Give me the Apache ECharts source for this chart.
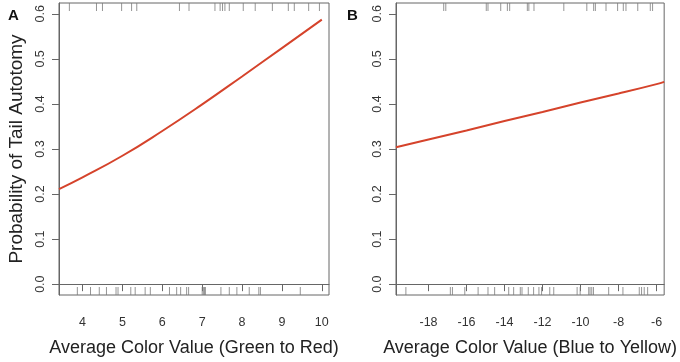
<!DOCTYPE html>
<html>
<head>
<meta charset="utf-8">
<script src="https://cdn.jsdelivr.net/npm/echarts@6/dist/echarts.min.js"></script>
<style>
  html, body { margin: 0; padding: 0; background: #fff; }
  #chart { width: 680px; height: 362px; }
</style>
</head>
<body>
<div id="chart"></div>
<script>
// fitted probability curves
const fitRGx = [3.41, 4, 5, 6, 7, 8, 9, 10]
const fitRGp = [0.211, 0.237, 0.285, 0.340, 0.399, 0.461, 0.524, 0.587]
const fitBYx = [-19.71, -18, -16, -14, -12, -10, -8, -6, -5.6]
const fitBYp = [0.304, 0.321, 0.341, 0.362, 0.382, 0.403, 0.423, 0.444, 0.449]

// rug marks: colour values of animals without (bottom) / with (top) autotomy
const rgAbsent = [3.87, 4.20, 4.42, 4.60, 4.84, 4.89, 5.21, 5.32, 5.57, 5.70, 6.18, 6.36, 6.46,
  6.61, 6.66, 7.00, 7.03, 7.06, 7.08, 7.47, 7.68, 7.87, 8.18, 8.42, 8.46, 9.46]
const rgPresent = [3.67, 4.35, 4.50, 4.98, 5.23, 5.36, 6.43, 6.67, 7.32, 7.45, 7.51, 7.57, 7.68,
  8.03, 8.33, 8.76, 9.16, 9.31, 9.67, 9.94]
const byAbsent = [-19.19, -16.85, -16.74, -16.09, -15.39, -14.87, -14.52, -13.78, -13.52, -13.17,
  -13.08, -12.75, -12.47, -12.19, -12.05, -11.62, -11.41, -10.18, -10.02, -9.57, -9.50, -9.41,
  -9.32, -8.52, -7.77, -6.91, -6.79, -6.65, -6.47]
const byPresent = [-17.20, -17.09, -14.96, -14.87, -14.20, -13.85, -13.73, -12.80, -12.72, -12.45,
  -10.88, -9.67, -9.31, -9.22, -8.66, -8.05, -7.75, -7.61, -6.99, -6.33, -6.21]

// tick labels
const yTicks = [0, 0.1, 0.2, 0.3, 0.4, 0.5, 0.6]
const rgTicks = [4, 5, 6, 7, 8, 9, 10]
const byTicks = [-18, -16, -14, -12, -10, -8, -6]

const Y_MIN = -0.024
const Y_MAX = 0.624
const FONT = 'Liberation Sans, Arial, Helvetica, sans-serif'
const LINE = '#d5432b'
const RUG = '#7a7a7a'
const AXIS = '#666'

const myChart = echarts.init(document.getElementById('chart'))

const xAxisOf = (idx, min, max, ticks, name) => ({
  type: 'value',
  gridIndex: idx,
  min,
  max,
  name,
  nameLocation: 'middle',
  nameGap: 44,
  nameTextStyle: { fontFamily: FONT, fontSize: 18, color: '#222' },
  axisLine: { show: true, lineStyle: { color: AXIS } },
  axisTick: { show: true, length: 7, customValues: ticks, lineStyle: { color: AXIS } },
  axisLabel: { customValues: ticks, margin: 21, fontFamily: FONT, fontSize: 12.5, color: '#333' },
  splitLine: { show: false }
})

const yAxisOf = (idx, name) => ({
  type: 'value',
  gridIndex: idx,
  min: Y_MIN,
  max: Y_MAX,
  name,
  nameLocation: 'middle',
  nameGap: 33,
  nameTextStyle: { fontFamily: FONT, fontSize: 19, color: '#222' },
  axisLine: { show: true, lineStyle: { color: AXIS } },
  axisTick: { show: true, length: 7, customValues: yTicks, lineStyle: { color: AXIS } },
  axisLabel: {
    customValues: yTicks,
    rotate: 90,
    margin: 12,
    fontFamily: FONT,
    fontSize: 12.5,
    color: '#333',
    formatter: v => v.toFixed(1)
  },
  splitLine: { show: false }
})

const rugSeries = (idx, values, y, offset) => ({
  type: 'scatter',
  xAxisIndex: idx,
  yAxisIndex: idx,
  symbol: 'rect',
  symbolSize: [1, 8],
  symbolOffset: [0, offset],
  clip: false,
  silent: true,
  itemStyle: { color: RUG },
  data: values.map(v => [v, y])
})

const curveSeries = (idx, xs, ps) => ({
  type: 'line',
  xAxisIndex: idx,
  yAxisIndex: idx,
  smooth: true,
  showSymbol: false,
  silent: true,
  lineStyle: { color: LINE, width: 2 },
  data: xs.map((x, i) => [x, ps[i]])
})

myChart.setOption({
  animation: false,
  title: [
    { text: 'A', left: 3, top: 3, textStyle: { fontFamily: FONT, fontSize: 15, fontWeight: 'bold', color: '#111' } },
    { text: 'B', left: 342, top: 3, textStyle: { fontFamily: FONT, fontSize: 15, fontWeight: 'bold', color: '#111' } }
  ],
  grid: [
    { left: 59, top: 3, width: 270, height: 298, show: true, borderColor: AXIS, borderWidth: 1 },
    { left: 396, top: 3, width: 269, height: 298, show: true, borderColor: AXIS, borderWidth: 1 }
  ],
  xAxis: [
    xAxisOf(0, 3.41, 10.18, rgTicks, 'Average Color Value (Green to Red)'),
    xAxisOf(1, -19.71, -5.6, byTicks, 'Average Color Value (Blue to Yellow)')
  ],
  yAxis: [
    yAxisOf(0, 'Probability of Tail Autotomy'),
    yAxisOf(1, '')
  ],
  series: [
    rugSeries(0, rgAbsent, Y_MIN, -4),
    rugSeries(0, rgPresent, Y_MAX, 4),
    rugSeries(1, byAbsent, Y_MIN, -4),
    rugSeries(1, byPresent, Y_MAX, 4),
    curveSeries(0, fitRGx, fitRGp),
    curveSeries(1, fitBYx, fitBYp)
  ]
})
</script>
</body>
</html>
